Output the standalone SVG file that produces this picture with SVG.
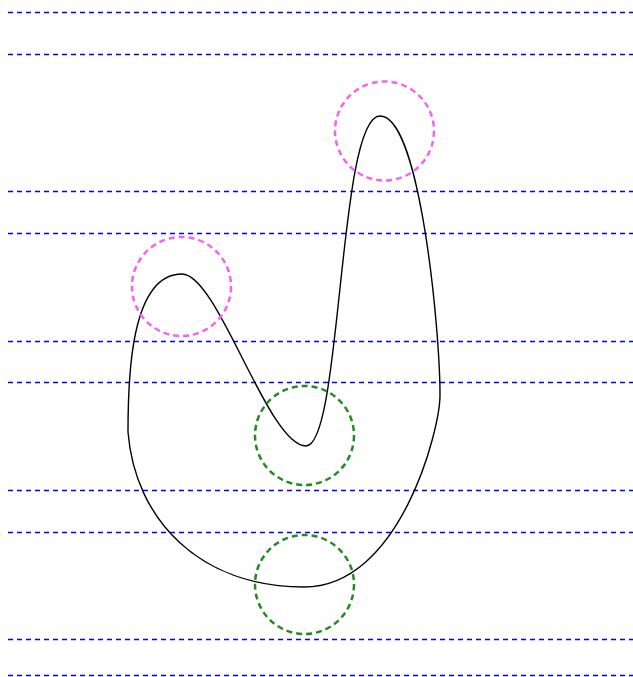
<svg xmlns="http://www.w3.org/2000/svg" width="633" height="677" viewBox="0 0 633 677">
<style>
.guide{stroke:#0000ff;stroke-width:1.3;stroke-dasharray:5 4;fill:none}
.pink{stroke:#f065f0;stroke-width:2.5;stroke-dasharray:6 4;fill:none}
.green{stroke:#228b22;stroke-width:2.5;stroke-dasharray:6 4;fill:none}
.shape{stroke:#000;stroke-width:1.4;fill:none}
</style>
<rect width="633" height="677" fill="#fff"/>
<g id="guides">
<line class="guide" x1="8" y1="12.5" x2="633" y2="12.5"/>
<line class="guide" x1="8" y1="54.5" x2="633" y2="54.5"/>
<line class="guide" x1="8" y1="191.5" x2="633" y2="191.5"/>
<line class="guide" x1="8" y1="233.5" x2="633" y2="233.5"/>
<line class="guide" x1="8" y1="341.5" x2="633" y2="341.5"/>
<line class="guide" x1="8" y1="382.5" x2="633" y2="382.5"/>
<line class="guide" x1="8" y1="490.5" x2="633" y2="490.5"/>
<line class="guide" x1="8" y1="532.5" x2="633" y2="532.5"/>
<line class="guide" x1="8" y1="639.5" x2="633" y2="639.5"/>
<line class="guide" x1="8" y1="675.5" x2="633" y2="675.5"/>
</g>
<path id="curve" class="shape" d="M 128 432 C 128 380, 130 274, 182 274 C 218 274, 268 446, 306 446 C 342 446, 338 116, 380 116 C 420 116, 440 330, 440 395 C 440 430, 400 587, 304 587 C 200 587, 135 520, 128 432 Z"/>
<g id="circles">
<circle class="pink" cx="384.5" cy="131" r="49.5"/>
<circle class="pink" cx="181.5" cy="286.5" r="49.5"/>
<circle class="green" cx="304.5" cy="435.5" r="49.5"/>
<circle class="green" cx="304.5" cy="584.5" r="49.5"/>
</g>
</svg>
